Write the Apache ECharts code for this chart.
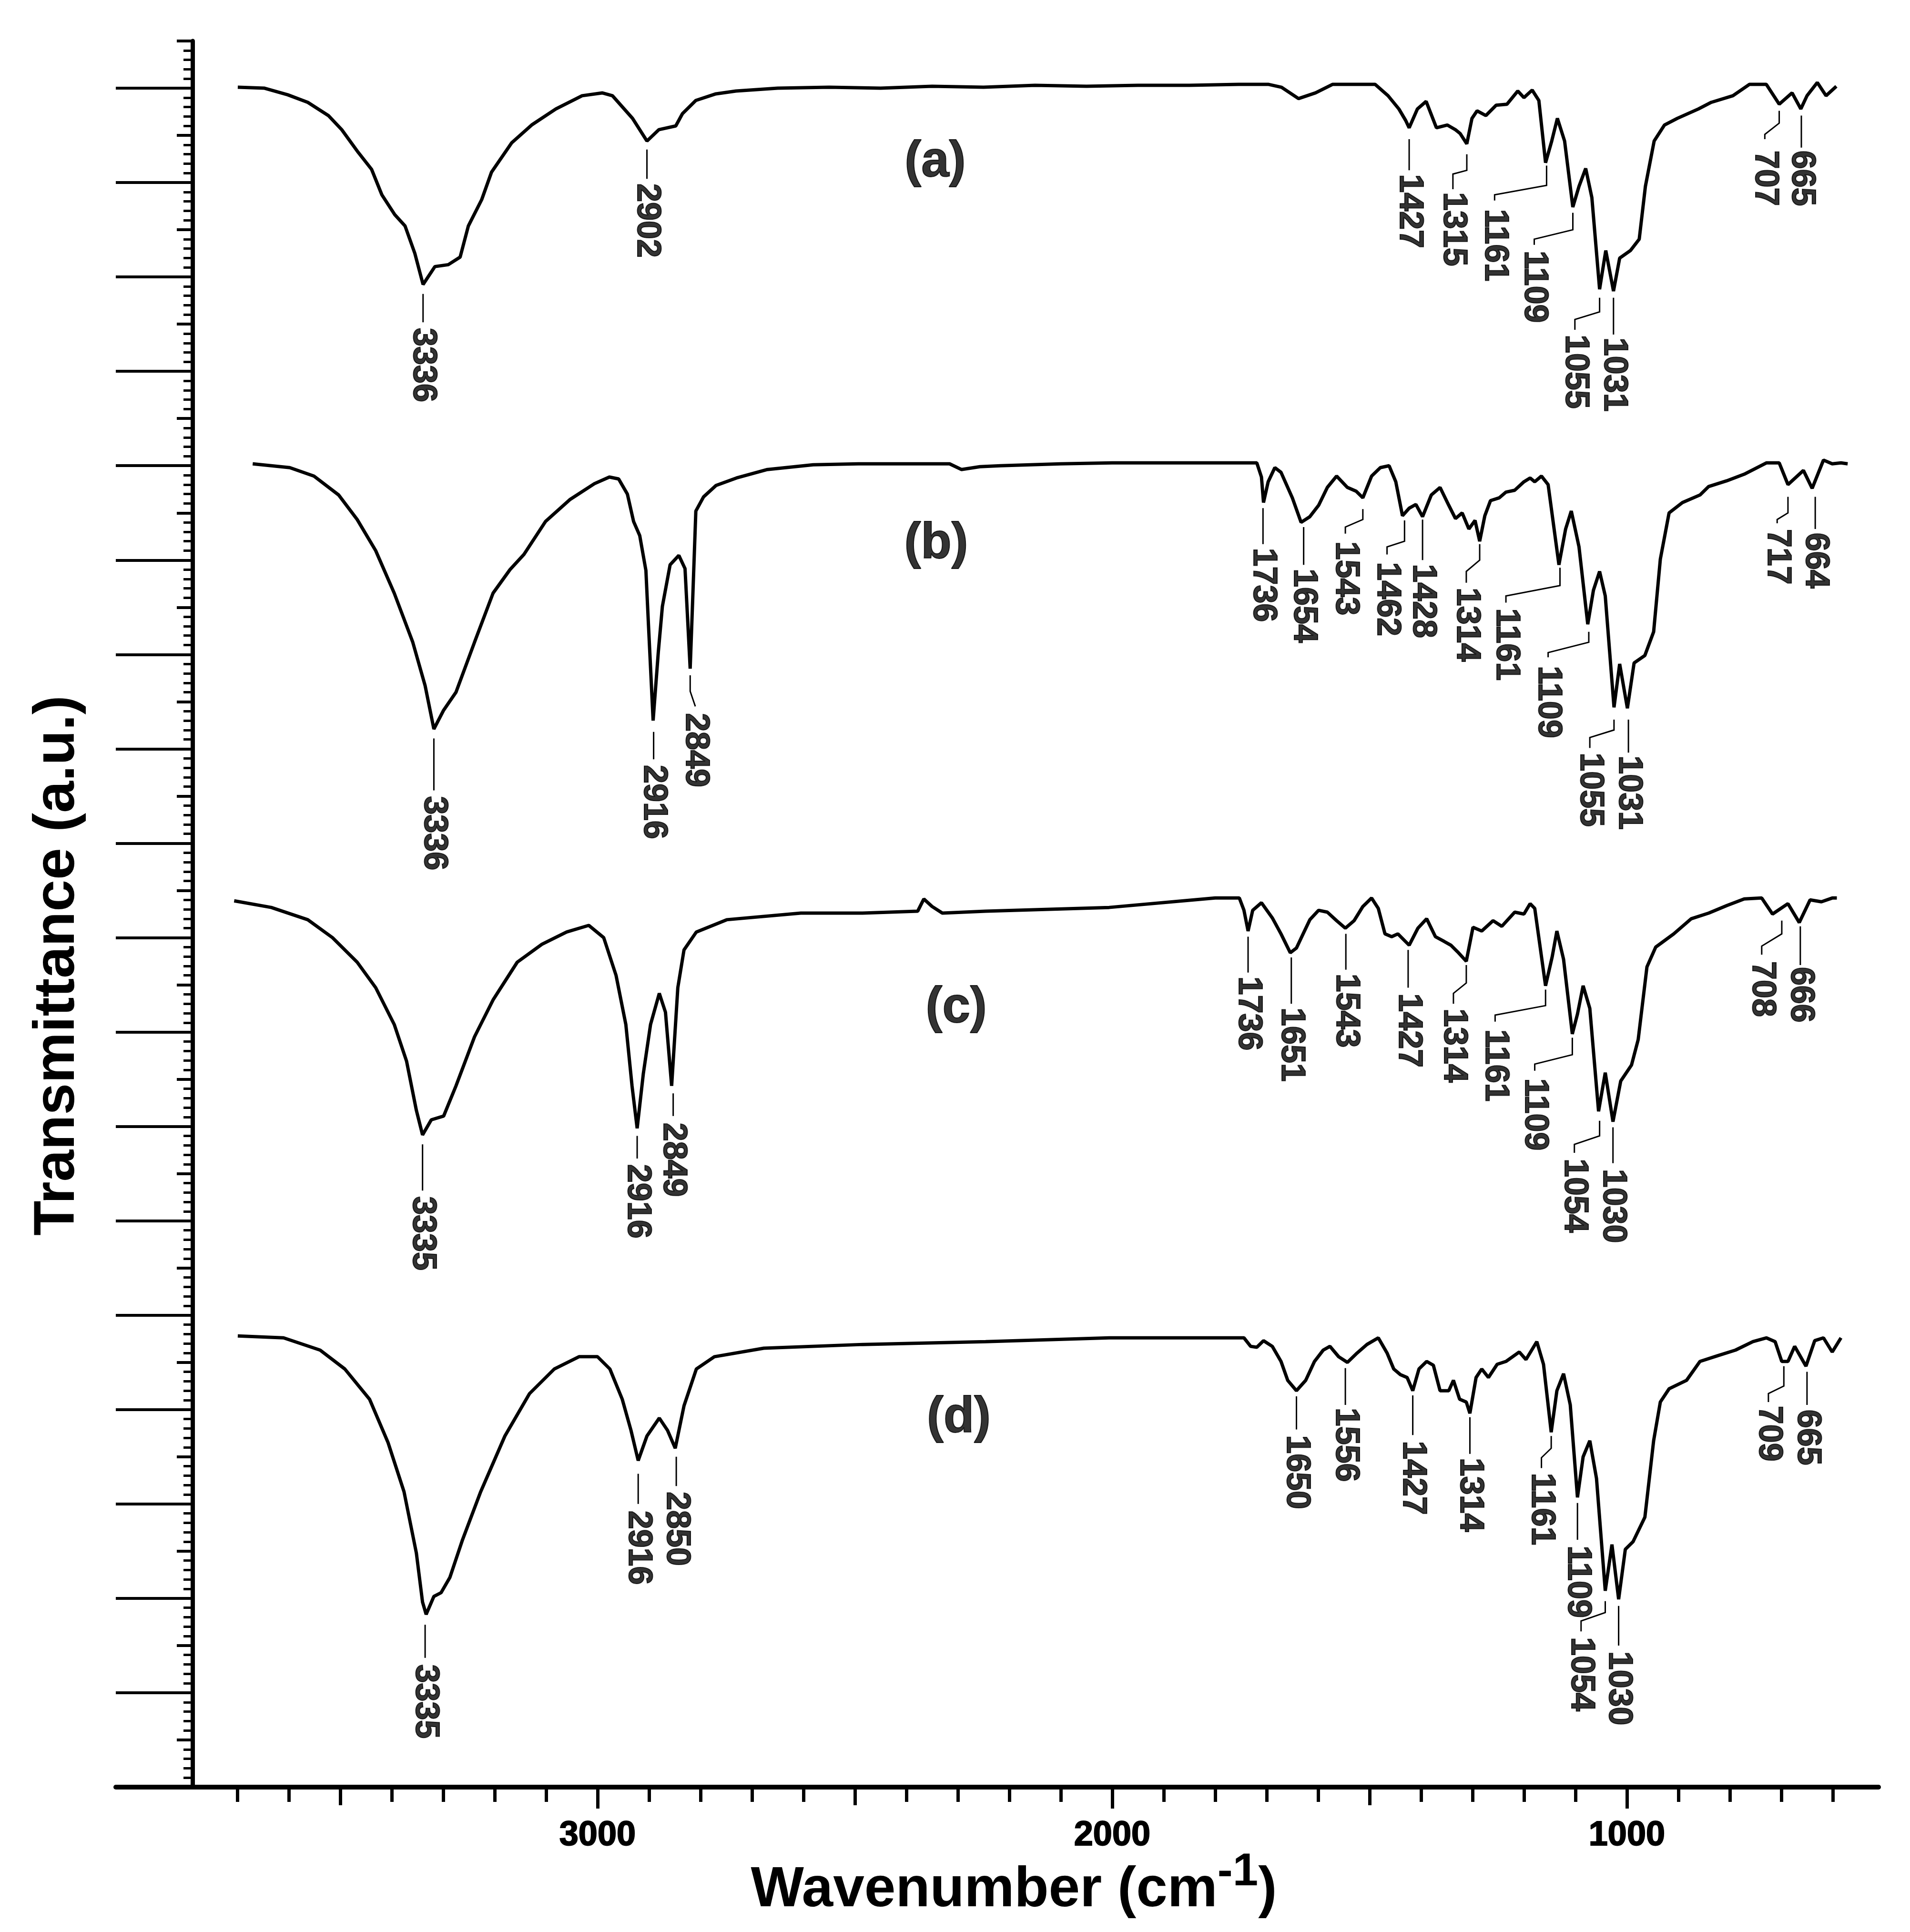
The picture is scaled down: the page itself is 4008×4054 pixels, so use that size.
<!DOCTYPE html>
<html>
<head>
<meta charset="utf-8">
<script src="https://cdn.jsdelivr.net/npm/echarts@6/dist/echarts.min.js"></script>
<style>
  html, body { margin: 0; padding: 0; background: #fff; }
  #chart { width: 4008px; height: 4054px; }
</style>
</head>
<body>
<div id="chart"></div>
<script>
const FONT = '"Liberation Sans", Arial, sans-serif';

// axis ticks (wavenumber, cm-1) and offsets (a.u.)
const xMajorTicks = [3000, 2000, 1000];
const xMidTicks = [3500, 2500, 1500];
const xMinorTicks = [3700, 3600, 3400, 3300, 3200, 3100, 2900, 2800, 2700, 2600, 2400, 2300,
  2200, 2100, 1900, 1800, 1700, 1600, 1400, 1300, 1200, 1100, 900, 800, 700, 600];
const yMajorTicks = [1, 2, 3, 4, 5, 6, 7, 8, 9, 10, 11, 12, 13, 14, 15, 16, 17, 18];

// spectra: [wavenumber, transmittance (stacked, a.u.)]
const specA = [[3699,18.01],[3647,18.00],[3602,17.93],[3563,17.85],[3523,17.71],[3497,17.56],[3465,17.32],
  [3439,17.14],[3419,16.87],[3394,16.66],[3374,16.54],[3355,16.25],[3339,15.92],[3316,16.11],[3290,16.13],
  [3267,16.21],[3251,16.54],[3225,16.82],[3206,17.11],[3167,17.42],[3128,17.61],[3081,17.78],[3030,17.92],
  [2991,17.95],[2971,17.92],[2932,17.68],[2904,17.44],[2881,17.56],[2848,17.60],[2835,17.73],[2809,17.87],
  [2770,17.94],[2731,17.97],[2650,18.00],[2550,18.01],[2450,18.00],[2350,18.02],[2250,18.01],[2150,18.03],
  [2050,18.02],[1950,18.03],[1850,18.03],[1754,18.04],[1696,18.04],[1671,18.01],[1638,17.89],[1605,17.95],
  [1572,18.04],[1489,18.04],[1464,17.92],[1443,17.78],[1430,17.66],[1423,17.58],[1407,17.78],[1390,17.86],
  [1370,17.58],[1349,17.61],[1333,17.56],[1324,17.52],[1311,17.41],[1301,17.68],[1291,17.76],[1274,17.71],
  [1254,17.82],[1233,17.83],[1212,17.97],[1200,17.90],[1184,17.98],[1171,17.87],[1158,17.21],[1146,17.44],
  [1135,17.68],[1121,17.44],[1105,16.74],[1093,16.96],[1080,17.15],[1068,16.84],[1053,15.87],[1041,16.28],
  [1026,15.85],[1014,16.20],[993,16.28],[976,16.40],[964,16.96],[947,17.44],[927,17.61],[902,17.68],
  [861,17.78],[836,17.85],[794,17.92],[762,18.04],[729,18.04],[704,17.83],[679,17.95],[662,17.78],
  [650,17.92],[630,18.06],[613,17.92],[593,18.02]];

const specB = [[3670,14.02],[3598,13.98],[3551,13.89],[3503,13.69],[3467,13.43],[3431,13.10],[3395,12.65],
  [3359,12.13],[3335,11.67],[3318,11.21],[3299,11.41],[3275,11.60],[3239,12.13],[3203,12.65],[3170,12.90],
  [3143,13.06],[3101,13.41],[3054,13.64],[3006,13.81],[2977,13.88],[2959,13.86],[2942,13.70],[2930,13.41],
  [2918,13.26],[2906,12.89],[2901,12.31],[2892,11.30],[2882,12.02],[2874,12.51],[2859,12.95],[2842,13.05],
  [2830,12.91],[2820,11.85],[2815,12.60],[2809,13.52],[2794,13.67],[2770,13.79],[2730,13.87],[2670,13.96],
  [2581,14.01],[2493,14.02],[2316,14.02],[2293,13.96],[2257,13.99],[2217,14.00],[2100,14.02],[2000,14.03],
  [1900,14.03],[1800,14.03],[1719,14.03],[1710,13.88],[1706,13.61],[1697,13.83],[1684,13.98],[1672,13.93],
  [1650,13.66],[1633,13.40],[1616,13.46],[1599,13.58],[1582,13.77],[1564,13.89],[1543,13.77],[1526,13.73],
  [1513,13.66],[1496,13.89],[1479,13.98],[1462,14.00],[1449,13.83],[1436,13.47],[1423,13.55],[1410,13.59],
  [1397,13.46],[1380,13.69],[1363,13.77],[1346,13.58],[1333,13.44],[1320,13.50],[1307,13.33],[1295,13.42],
  [1286,13.20],[1276,13.47],[1265,13.63],[1248,13.66],[1235,13.72],[1218,13.74],[1200,13.83],[1188,13.87],
  [1179,13.83],[1166,13.89],[1153,13.80],[1132,12.95],[1119,13.33],[1108,13.52],[1093,13.14],[1076,12.32],
  [1065,12.68],[1053,12.88],[1042,12.62],[1025,11.44],[1014,11.90],[999,11.43],[986,11.91],[965,11.99],
  [948,12.24],[935,13.01],[918,13.50],[892,13.61],[858,13.69],[841,13.78],[806,13.84],[772,13.91],
  [729,14.03],[704,14.03],[687,13.80],[657,13.95],[640,13.76],[618,14.06],[601,14.02],[584,14.03],[571,14.02]];

const specC = [[3706,9.39],[3634,9.32],[3563,9.19],[3515,9.00],[3467,8.74],[3431,8.47],[3395,8.08],
  [3371,7.69],[3352,7.17],[3340,6.91],[3323,7.07],[3299,7.11],[3275,7.43],[3239,7.95],[3203,8.34],
  [3156,8.74],[3108,8.93],[3060,9.06],[3017,9.13],[2988,9.00],[2964,8.60],[2945,8.08],[2933,7.43],
  [2923,6.98],[2911,7.56],[2897,8.08],[2880,8.41],[2868,8.21],[2856,7.43],[2844,8.47],[2832,8.87],
  [2808,9.06],[2749,9.19],[2605,9.26],[2485,9.26],[2378,9.28],[2366,9.41],[2350,9.33],[2330,9.26],
  [2246,9.28],[2006,9.32],[1800,9.42],[1753,9.42],[1744,9.29],[1736,9.07],[1727,9.29],[1710,9.37],
  [1689,9.21],[1672,9.04],[1654,8.84],[1642,8.89],[1629,9.04],[1616,9.19],[1599,9.29],[1582,9.27],
  [1564,9.18],[1547,9.10],[1530,9.18],[1513,9.33],[1496,9.42],[1483,9.31],[1470,9.04],[1457,9.01],
  [1445,9.04],[1423,8.92],[1406,9.10],[1389,9.20],[1372,9.01],[1355,8.96],[1342,8.92],[1329,8.85],
  [1312,8.75],[1299,9.11],[1282,9.07],[1260,9.18],[1243,9.12],[1218,9.27],[1200,9.25],[1188,9.36],
  [1179,9.31],[1158,8.49],[1145,8.80],[1136,9.07],[1123,8.77],[1106,7.98],[1096,8.19],[1085,8.49],
  [1072,8.25],[1055,7.16],[1042,7.57],[1027,7.05],[1012,7.48],[991,7.65],[978,7.92],[961,8.69],
  [944,8.90],[909,9.04],[875,9.20],[841,9.26],[806,9.34],[772,9.41],[738,9.42],[717,9.25],[687,9.36],
  [665,9.16],[644,9.40],[622,9.38],[601,9.42],[592,9.42]];

const specD = [[3699,4.78],[3610,4.76],[3539,4.63],[3491,4.43],[3443,4.11],[3407,3.65],[3376,3.13],
  [3352,2.48],[3340,1.96],[3333,1.83],[3318,2.02],[3304,2.06],[3287,2.22],[3263,2.61],[3227,3.13],
  [3180,3.72],[3132,4.17],[3084,4.43],[3036,4.56],[3000,4.56],[2976,4.43],[2952,4.11],[2935,3.78],
  [2921,3.46],[2904,3.72],[2880,3.91],[2864,3.78],[2849,3.59],[2832,4.04],[2808,4.43],[2773,4.56],
  [2677,4.65],[2485,4.69],[2246,4.72],[2006,4.76],[1800,4.76],[1744,4.76],[1731,4.67],[1719,4.66],
  [1706,4.73],[1689,4.67],[1672,4.51],[1659,4.31],[1642,4.20],[1624,4.31],[1607,4.51],[1590,4.63],
  [1577,4.67],[1560,4.56],[1543,4.50],[1526,4.59],[1505,4.69],[1483,4.76],[1466,4.60],[1453,4.43],
  [1440,4.37],[1427,4.34],[1416,4.20],[1404,4.43],[1389,4.51],[1376,4.47],[1363,4.20],[1346,4.20],
  [1337,4.31],[1325,4.11],[1312,4.08],[1305,3.96],[1293,4.34],[1282,4.43],[1269,4.34],[1252,4.48],
  [1235,4.51],[1209,4.61],[1196,4.53],[1175,4.72],[1162,4.48],[1147,3.76],[1136,4.20],[1123,4.38],
  [1110,4.05],[1096,3.07],[1085,3.50],[1072,3.67],[1059,3.27],[1042,2.08],[1029,2.57],[1016,1.99],
  [1003,2.52],[988,2.60],[965,2.86],[948,3.67],[935,4.08],[918,4.22],[884,4.31],[858,4.51],[824,4.57],
  [789,4.63],[755,4.72],[729,4.76],[712,4.72],[699,4.51],[687,4.51],[674,4.67],[652,4.46],[635,4.73],
  [618,4.76],[601,4.61],[584,4.76]];

// panel tags: [text, x, y]
const panels = [['(a)', 2344, 17.21], ['(b)', 2342, 13.17], ['(c)', 2303, 8.25], ['(d)', 2298, 3.91]];

// peak labels: [text, peak x, leader top, bend start, label x, bend end, leader end, text top]
const peaksA = [
  ['3336', 3339, 15.82, null, 3339, null, 15.52, 15.46],
  ['2902', 2904, 17.35, null, 2904, null, 17.04, 16.99],
  ['1427', 1423, 17.46, null, 1423, null, 17.13, 17.09],
  ['1315', 1311, 17.30, 17.13, 1338, 17.09, 16.93, 16.90],
  ['1161', 1156, 17.18, 16.97, 1257, 16.87, 16.81, 16.72],
  ['1109', 1105, 16.68, 16.50, 1180, 16.40, 16.34, 16.28],
  ['1055', 1053, 15.78, 15.63, 1101, 15.55, 15.44, 15.39],
  ['1031', 1026, 15.78, null, 1026, null, 15.39, 15.36],
  ['707', 704, 17.76, 17.63, 732, 17.51, 17.46, 17.34],
  ['665', 661, 17.71, null, 661, null, 17.37, 17.34]
];
const peaksB = [
  ['3336', 3318, 11.11, null, 3318, null, 10.56, 10.50],
  ['2916', 2891, 11.18, null, 2891, null, 10.89, 10.83],
  ['2849', 2820, 11.78, 11.61, 2810, 11.45, 11.45, 11.38],
  ['1736', 1707, 13.55, null, 1707, null, 13.17, 13.13],
  ['1654', 1628, 13.35, null, 1628, null, 12.95, 12.91],
  ['1543', 1513, 13.54, 13.43, 1547, 13.35, 13.28, 13.20],
  ['1462', 1432, 13.42, 13.20, 1466, 13.14, 13.06, 12.98],
  ['1428', 1397, 13.43, null, 1397, null, 13.00, 12.96],
  ['1314', 1286, 13.17, 13.00, 1312, 12.88, 12.76, 12.71],
  ['1161', 1130, 12.92, 12.73, 1235, 12.62, 12.55, 12.49],
  ['1109', 1074, 12.24, 12.13, 1153, 12.02, 11.97, 11.88],
  ['1055', 1025, 11.31, 11.20, 1072, 11.12, 11.01, 10.96],
  ['1031', 997, 11.31, null, 997, null, 10.96, 10.93],
  ['717', 687, 13.67, 13.50, 708, 13.43, 13.39, 13.33],
  ['664', 634, 13.67, null, 634, null, 13.33, 13.29]
];
const peaksC = [
  ['3335', 3340, 6.81, null, 3340, null, 6.32, 6.26],
  ['2916', 2923, 6.90, null, 2923, null, 6.66, 6.60],
  ['2849', 2853, 7.35, null, 2853, null, 7.11, 7.04],
  ['1736', 1736, 9.01, null, 1736, null, 8.63, 8.59],
  ['1651', 1652, 8.79, null, 1652, null, 8.30, 8.26],
  ['1543', 1546, 9.04, null, 1546, null, 8.66, 8.62],
  ['1427', 1425, 8.87, null, 1425, null, 8.47, 8.41],
  ['1314', 1312, 8.71, 8.52, 1337, 8.41, 8.30, 8.25],
  ['1161', 1158, 8.45, 8.28, 1256, 8.18, 8.11, 8.03],
  ['1109', 1106, 7.94, 7.76, 1179, 7.66, 7.59, 7.51],
  ['1054', 1053, 7.06, 6.90, 1102, 6.81, 6.72, 6.66],
  ['1030', 1027, 6.99, null, 1027, null, 6.61, 6.55],
  ['708', 699, 9.18, 9.04, 738, 8.91, 8.82, 8.75],
  ['666', 663, 9.12, null, 663, null, 8.71, 8.69]
];
const peaksD = [
  ['3335', 3335, 1.72, null, 3335, null, 1.37, 1.30],
  ['2916', 2921, 3.32, null, 2921, null, 3.00, 2.93],
  ['2850', 2847, 3.50, null, 2847, null, 3.19, 3.13],
  ['1650', 1642, 4.14, null, 1642, null, 3.79, 3.73],
  ['1556', 1547, 4.44, null, 1547, null, 4.05, 4.02],
  ['1427', 1416, 4.15, null, 1416, null, 3.73, 3.67],
  ['1314', 1305, 3.92, null, 1305, null, 3.53, 3.49],
  ['1161', 1147, 3.72, 3.59, 1166, 3.49, 3.38, 3.33],
  ['1109', 1096, 3.01, null, 1096, null, 2.62, 2.56],
  ['1054', 1042, 1.97, 1.85, 1089, 1.76, 1.65, 1.59],
  ['1030', 1016, 1.92, null, 1016, null, 1.50, 1.44],
  ['709', 695, 4.46, 4.25, 725, 4.17, 4.08, 4.04],
  ['665', 650, 4.40, null, 650, null, 4.05, 4.00]
];

const allPeaks = peaksA.concat(peaksB, peaksC, peaksD);

const leaders = allPeaks.map(function (p) {
  const coords = p[3] == null
    ? [[p[1], p[2]], [p[4], p[6]]]
    : [[p[1], p[2]], [p[1], p[3]], [p[4], p[5]], [p[4], p[6]]];
  return { coords: coords };
});

const chart = echarts.init(document.getElementById('chart'));

const xBase = {
  type: 'value', min: 511, max: 3936, inverse: true, position: 'bottom',
  axisLine: { show: false, onZero: false },
  axisLabel: { show: false },
  splitLine: { show: false }
};

const option = {
  backgroundColor: '#fff',
  animation: false,
  grid: { left: 243, right: 66, top: 86, bottom: 304, containLabel: false },
  xAxis: [
    Object.assign({}, xBase, {
      axisLine: { show: true, onZero: false, lineStyle: { color: '#000', width: 10 } },
      axisTick: { show: true, customValues: xMinorTicks, length: 31, lineStyle: { color: '#000', width: 7 } },
      name: '{b|Wavenumber (cm}{s|-1}{b|)}',
      nameLocation: 'middle',
      nameGap: 132,
      nameTextStyle: {
        padding: [0, 0, 0, 70],
        rich: {
          b: { fontSize: 118, fontWeight: 'bold', fontFamily: FONT, color: '#000', verticalAlign: 'bottom', lineHeight: 118 },
          s: { fontSize: 96, fontWeight: 'bold', fontFamily: FONT, color: '#000', verticalAlign: 'bottom', padding: [0, 0, 48, 0] }
        }
      }
    }),
    Object.assign({}, xBase, {
      axisTick: { show: true, customValues: xMidTicks, length: 38, lineStyle: { color: '#000', width: 7 } }
    }),
    Object.assign({}, xBase, {
      axisTick: { show: true, customValues: xMajorTicks, length: 45, lineStyle: { color: '#000', width: 7 } },
      axisLabel: {
        show: true, customValues: xMajorTicks, margin: 66,
        formatter: function (v) { return String(v); },
        fontSize: 72, fontWeight: 'bold', fontFamily: FONT, color: '#000',
        textBorderColor: '#000', textBorderWidth: 2
      }
    })
  ],
  yAxis: [
    {
      type: 'value', min: 0, max: 18.5, interval: 0.5, position: 'left', offset: -161,
      axisLine: { show: true, onZero: false, lineStyle: { color: '#000', width: 9 } },
      axisTick: { show: true, length: 33, lineStyle: { color: '#000', width: 6 } },
      minorTick: { show: true, splitNumber: 5, length: 19, lineStyle: { color: '#000', width: 5 } },
      axisLabel: { show: false },
      splitLine: { show: false },
      minorSplitLine: { show: false },
      name: 'Transmittance (a.u.)',
      nameLocation: 'middle',
      nameGap: 222,
      nameRotate: 90,
      nameTextStyle: {
        fontSize: 120, fontWeight: 'bold', fontFamily: FONT, color: '#000',
        padding: [0, 216, 0, 0]
      }
    },
    {
      type: 'value', min: 0, max: 18.5, position: 'left', offset: -161,
      axisLine: { show: false, onZero: false },
      axisTick: { show: true, customValues: yMajorTicks, length: 161, lineStyle: { color: '#000', width: 6 } },
      axisLabel: { show: false },
      splitLine: { show: false }
    }
  ],
  series: [
    ...[specA, specB, specC, specD].map(function (d) {
      return {
        type: 'line', data: d, symbol: 'none', showSymbol: false, silent: true, z: 3,
        lineStyle: { color: '#000', width: 7 }
      };
    }),
    {
      type: 'lines', coordinateSystem: 'cartesian2d', polyline: true, silent: true, z: 2,
      lineStyle: { color: '#000', width: 3, opacity: 1 },
      data: leaders
    },
    {
      type: 'scatter', symbolSize: 1, silent: true, z: 4,
      itemStyle: { color: 'rgba(0,0,0,0)' },
      data: allPeaks.map(function (p) { return { name: p[0], value: [p[4], p[7]] }; }),
      label: {
        show: true, position: 'inside', formatter: '{b}', rotate: -90,
        align: 'left', verticalAlign: 'middle',
        fontSize: 70, fontWeight: 'bold', fontFamily: FONT, color: '#000',
        textBorderColor: '#000', textBorderWidth: 2
      }
    },
    {
      type: 'scatter', symbolSize: 1, silent: true, z: 4,
      itemStyle: { color: 'rgba(0,0,0,0)' },
      data: panels.map(function (p) { return { name: p[0], value: [p[1], p[2]] }; }),
      label: {
        show: true, position: 'inside', formatter: '{b}',
        align: 'center', verticalAlign: 'middle',
        fontSize: 105, fontWeight: 'bold', fontFamily: FONT, color: '#000',
        textBorderColor: '#000', textBorderWidth: 2
      }
    }
  ]
};

chart.setOption(option);
</script>
</body>
</html>
